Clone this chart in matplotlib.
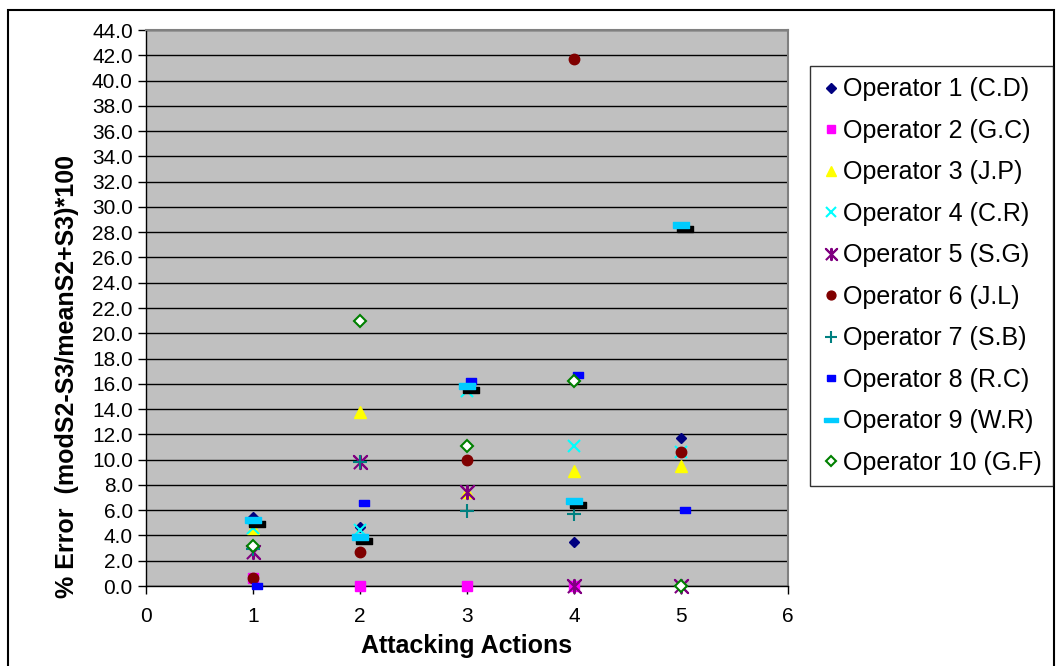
import numpy as np
import matplotlib
matplotlib.use('Agg')
import matplotlib.pyplot as plt
from matplotlib.patches import Rectangle
from matplotlib.transforms import offset_copy

plt.rcParams['font.family'] = ['Liberation Sans', 'DejaVu Sans']

# ---- data ----
actions = [1, 2, 3, 4, 5]
nan = np.nan
op1 = [5.5, 4.7, nan, 3.5, 11.7]
op2 = [0.6, 0.0, 0.0, 0.0, nan]
op3 = [4.6, 13.8, 7.4, 9.1, 9.5]
op4 = [4.6, 4.4, 15.4, 11.1, 10.6]
op5 = [2.7, 9.8, 7.4, 0.0, 0.0]
op6 = [0.6, 2.7, 10.0, 41.7, 10.6]
op7 = [2.9, 9.8, 5.9, 5.7, 0.0]
op8 = [0.0, 6.6, 16.2, 16.7, 6.0]
op9 = [5.2, 3.9, 15.8, 6.7, 28.6]
op10 = [3.2, 21.0, 11.1, 16.2, 0.0]

labels = ['Operator 1 (C.D)', 'Operator 2 (G.C)', 'Operator 3 (J.P)',
          'Operator 4 (C.R)', 'Operator 5 (S.G)', 'Operator 6 (J.L)',
          'Operator 7 (S.B)', 'Operator 8 (R.C)', 'Operator 9 (W.R)',
          'Operator 10 (G.F)']
yticks = np.arange(0, 46, 2)
xticks = [0, 1, 2, 3, 4, 5, 6]

# marker shapes
star = [(-1, -1), (1, 1), (0, 0), (-1, 1), (1, -1), (0, 0), (0, 1), (0, -1), (0, 0)]
short_dash = [(-1, -0.6), (1, -0.6), (1, 0.6), (-1, 0.6), (-1, -0.6)]
long_dash = [(-1, -0.34), (1, -0.34), (1, 0.34), (-1, 0.34), (-1, -0.34)]

fig = plt.figure(figsize=(10.56, 6.66), dpi=100)
ax = fig.add_axes([146 / 1056, 80 / 666, (788 - 146) / 1056, (636 - 80) / 666])
ax.set_facecolor('#C0C0C0')

styles = [
    (op1, dict(marker='D', color='#000080', ms=5.5, mec='#000080')),
    (op2, dict(marker='s', color='#FF00FF', ms=7, mec='#FF00FF')),
    (op3, dict(marker='^', color='#FFFF00', ms=8, mec='#FFFF00')),
    (op4, dict(marker='x', color='#00FFFF', ms=9, mew=1.5)),
    (op5, dict(marker=star, color='#800080', ms=9.5, mew=1.5, mfc='none')),
    (op6, dict(marker='o', color='#800000', ms=7.5, mec='#800000')),
    (op7, dict(marker='+', color='#008080', ms=10, mew=1.5)),
    (op8, dict(marker=short_dash, color='#0000FF', ms=7.5, mec='#0000FF')),
    (op9, dict(marker=long_dash, color='#00CCFF', ms=11.5, mec='#00CCFF')),
    (op10, dict(marker='D', color='#008000', ms=6, mfc='white', mec='#008000', mew=1.5)),
]

handles = []
for i, ((vals, st), lab) in enumerate(zip(styles, labels)):
    trans = ax.transData
    if i == 7:
        trans = offset_copy(ax.transData, fig=fig, x=4, y=0, units='dots')
    if i == 8:
        # black drop shadow behind the dash
        sh = offset_copy(ax.transData, fig=fig, x=4, y=-4, units='dots')
        ax.plot(actions, vals, ls='none', marker=long_dash, color='black',
                ms=11.5, mec='black', transform=sh, clip_on=False, zorder=2 + i)
    h, = ax.plot(actions, vals, ls='none', label=lab, transform=trans,
                 clip_on=False, zorder=2.5 + i, **st)
    handles.append(h)

ax.set_xlim(0, 6)
ax.set_ylim(0, 44)
ax.set_xticks(xticks)
ax.set_yticks(yticks)
ax.set_yticklabels([f'{v:.1f}' for v in yticks])
ax.tick_params(direction='out', length=6, width=1, labelsize=15, colors='black')
ax.tick_params(axis='x', pad=9)
ax.yaxis.grid(True, color='black', lw=1)
ax.set_axisbelow(True)
for s in ['left', 'bottom']:
    ax.spines[s].set_color('black')
    ax.spines[s].set_linewidth(1)
for s in ['top', 'right']:
    ax.spines[s].set_color('#808080')
    ax.spines[s].set_linewidth(1.5)

ax.set_xlabel('Attacking Actions', fontsize=18, fontweight='bold', labelpad=6)
fig.text(67 / 1056, 1 - 377 / 666, '% Error  (modS2-S3/meanS2+S3)*100',
         rotation=90, fontsize=18, fontweight='bold', ha='center', va='center')

leg = fig.legend(handles=handles, loc='upper left',
                 bbox_to_anchor=(810 / 1056, 1 - 66 / 666), fontsize=18,
                 frameon=True, fancybox=False, edgecolor='black',
                 borderpad=0.45, labelspacing=0.7, handlelength=0.75,
                 handletextpad=0.12, borderaxespad=0, markerscale=0.85)
leg.get_frame().set_linewidth(1)

# outer chart frame
fig.patches.append(Rectangle((8 / 1056, -0.1), (1054 - 8) / 1056, 1 - 10 / 666 + 0.1,
                             transform=fig.transFigure, fill=False,
                             edgecolor='black', lw=1.5))

fig.savefig('out.png', dpi=100)
